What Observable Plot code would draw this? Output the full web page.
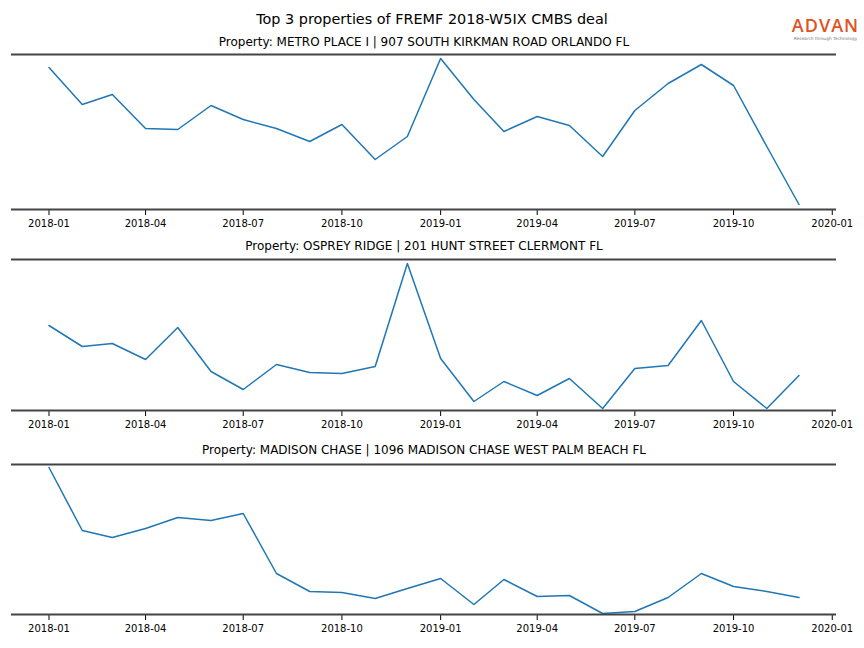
<!DOCTYPE html>
<html>
<head>
<meta charset="utf-8">
<script src="https://cdn.jsdelivr.net/npm/d3@7"></script>
<script src="https://cdn.jsdelivr.net/npm/@observablehq/plot@0.6"></script>
<style>
  html, body { margin: 0; padding: 0; background: #fff; }
  #root { position: relative; width: 864px; height: 648px; font-family: "DejaVu Sans", sans-serif; }
  #suptitle { position: absolute; left: 0; width: 864px; top: 10px; text-align: center; font-size: 14.4px; color: #000; line-height: 18px; }
  #logo { position: absolute; left: 790px; top: 16px; width: 71px; text-align: center; }
  #logo .brand { font-family: "Open Sans", "DejaVu Sans", sans-serif; font-size: 18px; font-weight: 600; color: #e0521f; line-height: 18px; letter-spacing: 1px; }
  #logo .tag { font-size: 4.3px; color: #777; line-height: 5px; white-space: nowrap; margin-top: 2px; }
  .panel { position: absolute; left: 0; }
</style>
</head>
<body>
<div id="root">
  <div id="suptitle"></div>
  <div id="logo"><div class="brand">ADVAN</div><div class="tag">Research through Technology</div></div>
</div>
<script>
const chartTitle = "Top 3 properties of FREMF 2018-W5IX CMBS deal";
const months = ["2018-01","2018-02","2018-03","2018-04","2018-05","2018-06","2018-07","2018-08","2018-09","2018-10","2018-11","2018-12",
                "2019-01","2019-02","2019-03","2019-04","2019-05","2019-06","2019-07","2019-08","2019-09","2019-10","2019-11","2019-12"];
const tickLabels = ["2018-01","2018-04","2018-07","2018-10","2019-01","2019-04","2019-07","2019-10","2020-01"];
const panelTitles = [
  "Property: METRO PLACE I | 907 SOUTH KIRKMAN ROAD ORLANDO FL",
  "Property: OSPREY RIDGE | 201 HUNT STREET CLERMONT FL",
  "Property: MADISON CHASE | 1096 MADISON CHASE WEST PALM BEACH FL"
];
const metroPlace = [142,105,115,81,80,104,90,81,68,85,50,73,151,110,78,93,84,53,99,126,145,124,63,5];
const ospreyRidge = [85,64,67,51,83,39,21,46,38,37,44,147,52,9,29,15,32,2,42,45,90,29,2,35];
const madisonChase = [147,84,77,86,97,94,101,41,23,22,16,26,36,10,35,18,19,1,3,17,41,28,23,17];
const series = [metroPlace, ospreyRidge, madisonChase];
const yDomains = [[0,155],[0,151],[0,150]];

document.getElementById("suptitle").textContent = chartTitle;

const parse = d3.utcParse("%Y-%m");
const dates = months.map(parse);
const ticks = tickLabels.map(parse);
const pad = (dates[dates.length-1] - dates[0]) * 0.05;
const xDomain = [new Date(+dates[0] - pad), new Date(+dates[dates.length-1] + pad)];

const layout = [
  {top: 30, frame: 155, titleDy: -12},
  {top: 235, frame: 151, titleDy: -13},
  {top: 440, frame: 150, titleDy: -14}
];

const root = document.getElementById("root");
series.forEach((vals, i) => {
  const data = vals.map((v, j) => ({date: dates[j], value: v}));
  const L = layout[i];
  const chart = Plot.plot({
    width: 864,
    height: 24 + L.frame + 26,
    marginTop: 24,
    marginBottom: 26,
    marginLeft: 11,
    marginRight: 28,
    style: {fontFamily: "DejaVu Sans, sans-serif", fontSize: "10px", color: "#000", background: "transparent"},
    x: {type: "utc", domain: xDomain, ticks: ticks, tickFormat: d3.utcFormat("%Y-%m"), tickSize: 6, tickPadding: 4, label: null},
    y: {domain: yDomains[i], axis: null},
    marks: [
      Plot.line(data, {x: "date", y: "value", stroke: "#1f77b4", strokeWidth: 1.5}),
      Plot.ruleY(yDomains[i], {stroke: "#444", strokeWidth: 2}),
      Plot.text([panelTitles[i]], {frameAnchor: "top", lineAnchor: "middle", dy: L.titleDy, text: d => d, fontSize: 12, fill: "#000"})
    ]
  });
  chart.classList.add("panel");
  chart.style.top = L.top + "px";
  root.appendChild(chart);
});
</script>
</body>
</html>
